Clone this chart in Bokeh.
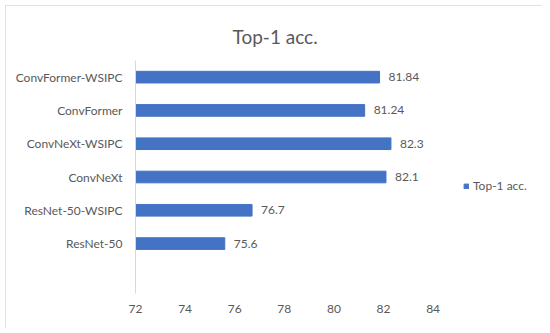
from bokeh.plotting import figure
from bokeh.models import ColumnDataSource, Range1d, FixedTicker, Legend, LegendItem
from bokeh.core.properties import value
from bokeh.embed import file_html
from bokeh.resources import INLINE

# data (listed bottom to top, last slot at the bottom is an empty category)
models = ["ResNet-50", "ResNet-50-WSIPC", "ConvNeXt", "ConvNeXt-WSIPC", "ConvFormer", "ConvFormer-WSIPC"]
top1_acc = [75.6, 76.7, 82.1, 82.3, 81.24, 81.84]
x_ticks = [72, 74, 76, 78, 80, 82, 84]
series_name = "Top-1 acc."
title_text = "Top-1 acc."

FONT = "Lato"
TXT = "#595959"
BAR = "#4472C4"

ypos = list(range(len(models)))
src = ColumnDataSource(dict(y=ypos, v=top1_acc, lbl=[str(v) for v in top1_acc]))

W, H = 537, 323
ML, MR, MT, MB = 130, 4, 55, 35
px_per_unit = 24.8
x_end = 72 + (W - ML - MR) / px_per_unit

p = figure(width=W, height=H, output_backend="svg", toolbar_location=None,
           x_range=Range1d(72, x_end), y_range=Range1d(-1.5, len(models) - 0.5),
           min_border_left=ML, min_border_right=MR, min_border_top=MT, min_border_bottom=MB,
           background_fill_color="white", border_fill_color="white")
p.outline_line_color = None
p.xgrid.visible = False
p.ygrid.visible = False
p.styles = {"position": "relative", "left": "5px", "top": "5px",
            "outline": "1px solid #d9d9d9", "outline-offset": "-1px"}

r = p.hbar(y="y", right="v", left=72, height=0.35, source=src, color=BAR)
p.text(x="v", y="y", text="lbl", source=src, x_offset=9, text_baseline="middle",
       text_align="left", text_font=value(FONT), text_font_size="12px", text_color=TXT)

# x axis
xa = p.xaxis[0]
xa.ticker = FixedTicker(ticks=x_ticks)
xa.axis_line_color = None
xa.major_tick_line_color = None
xa.minor_tick_line_color = None
xa.major_label_text_font = FONT
xa.major_label_text_font_size = "12px"
xa.major_label_text_color = TXT
xa.major_label_standoff = 5

# y axis
ya = p.yaxis[0]
ya.ticker = FixedTicker(ticks=ypos)
ya.major_label_overrides = {i: m for i, m in enumerate(models)}
ya.axis_line_color = "#d9d9d9"
ya.major_tick_line_color = None
ya.minor_tick_line_color = None
ya.major_label_text_font = FONT
ya.major_label_text_font_size = "12px"
ya.major_label_text_color = TXT
ya.major_label_standoff = 7

# title
p.title.text = title_text
p.title.align = "left"
p.title.offset = 97
p.title.text_font = FONT
p.title.text_font_size = "19px"
p.title.text_font_style = "normal"
p.title.text_color = TXT
p.title.standoff = 26

legend = Legend(items=[LegendItem(label=series_name, renderers=[r])],
                location=(328, 100), padding=0, margin=0, spacing=0,
                glyph_width=6, glyph_height=6, label_height=14, label_standoff=4,
                label_text_font=FONT, label_text_font_size="12px", label_text_color=TXT,
                border_line_color=None, background_fill_alpha=0)
p.add_layout(legend)

open("out.html", "w").write(file_html(p, INLINE))
